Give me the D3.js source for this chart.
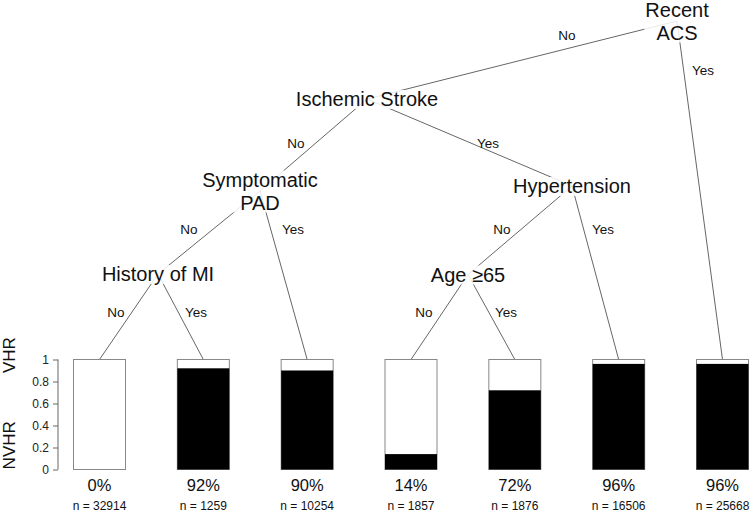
<!DOCTYPE html>
<html>
<head>
<meta charset="utf-8">
<script src="https://cdn.jsdelivr.net/npm/d3@7"></script>
<style>
  html, body { margin: 0; padding: 0; background: #fff; }
  svg { display: block; font-family: "Liberation Sans", Arial, sans-serif; }
</style>
</head>
<body>
<svg id="chart" width="750" height="511"></svg>
<script>
// ---------- DATA ----------
const leafIds = ["L1", "L2", "L3", "L4", "L5", "L6", "L7"];
const vhrShare = [0.00, 0.92, 0.90, 0.14, 0.72, 0.96, 0.96];
const pctLabels = ["0%", "92%", "90%", "14%", "72%", "96%", "96%"];
const nValues = [32914, 1259, 10254, 1857, 1876, 16506, 25668];
const yTicks = [0, 0.2, 0.4, 0.6, 0.8, 1];
const yTickLabels = ["0", "0.2", "0.4", "0.6", "0.8", "1"];
const axisTitles = ["VHR", "NVHR"];

const nodeIds = ["root", "isch", "spad", "hyp", "hmi", "age"];
const nodeLabels = [["Recent", "ACS"], ["Ischemic Stroke"], ["Symptomatic", "PAD"], ["Hypertension"], ["History of MI"], ["Age \u226565"]];

const edgeParents = ["root", "root", "isch", "isch", "spad", "spad", "hyp", "hyp", "hmi", "hmi", "age", "age"];
const edgeChildren = ["isch", "L7", "spad", "hyp", "hmi", "L3", "age", "L6", "L1", "L2", "L4", "L5"];
const edgeLabels = ["No", "Yes", "No", "Yes", "No", "Yes", "No", "Yes", "No", "Yes", "No", "Yes"];

// ---------- LAYOUT (positions of tree nodes / edge labels) ----------
const nodePos = {
  root: [677, 21], isch: [367, 99], spad: [260, 191],
  hyp: [572, 186], hmi: [158, 274], age: [468, 274.5]
};
const edgeLabelPos = [
  [567, 35], [703, 70], [296, 143], [488, 143], [189, 229], [293, 229],
  [502, 229], [603, 229], [116, 312], [196, 312], [424, 312], [506, 312]
];

// ---------- SCALES ----------
const svg = d3.select("#chart");
const x = d3.scalePoint().domain(leafIds).range([99.5, 722.5]);
const y = d3.scaleLinear().domain([0, 1]).range([469.5, 359.5]);
const barW = 52;

function pos(id) {
  if (nodePos[id]) return nodePos[id];
  return [x(id), y(1)];
}

// ---------- EDGES ----------
const edges = edgeParents.map((p, i) => ({ p, c: edgeChildren[i], label: edgeLabels[i], lp: edgeLabelPos[i] }));
svg.append("g").selectAll("line").data(edges).join("line")
  .attr("x1", d => pos(d.p)[0]).attr("y1", d => pos(d.p)[1])
  .attr("x2", d => pos(d.c)[0]).attr("y2", d => pos(d.c)[1])
  .attr("stroke", "#666").attr("stroke-width", 1);

svg.append("g").selectAll("text").data(edges).join("text")
  .attr("x", d => d.lp[0]).attr("y", d => d.lp[1] + 4.8)
  .attr("text-anchor", "middle").attr("font-size", 13.5).attr("fill", "#111")
  .text(d => d.label);

// ---------- NODES ----------
const nodes = nodeIds.map((id, i) => ({ id, lines: nodeLabels[i] }));
const ng = svg.append("g").selectAll("g").data(nodes).join("g");
ng.each(function(d) {
  const g = d3.select(this);
  const [cx, cy] = pos(d.id);
  const n = d.lines.length;
  const lh = 23;
  const bg = g.append("rect").attr("fill", "#fff").attr("opacity", 0.85);
  const t = g.append("text").attr("text-anchor", "middle").attr("font-size", 20).attr("fill", "#111");
  d.lines.forEach((ln, k) => {
    t.append("tspan").attr("x", cx).attr("y", cy + 7 + (k - (n - 1) / 2) * lh).text(ln);
  });
  const bb = t.node().getBBox();
  bg.attr("x", bb.x - 1).attr("y", bb.y + 2).attr("width", bb.width + 2).attr("height", bb.height - 3);
});

// ---------- BARS ----------
const leaves = leafIds.map((id, i) => ({ id, v: vhrShare[i], pct: pctLabels[i], n: nValues[i] }));
const bg = svg.append("g");
bg.selectAll("rect.box").data(leaves).join("rect").attr("class", "box")
  .attr("x", d => x(d.id) - barW / 2).attr("y", y(1))
  .attr("width", barW).attr("height", y(0) - y(1))
  .attr("fill", "#fff").attr("stroke", "#888").attr("stroke-width", 1);
bg.selectAll("rect.fill").data(leaves).join("rect").attr("class", "fill")
  .attr("x", d => x(d.id) - barW / 2).attr("y", d => y(d.v))
  .attr("width", barW).attr("height", d => y(0) - y(d.v))
  .attr("fill", "#000");

bg.selectAll("text.pct").data(leaves).join("text").attr("class", "pct")
  .attr("x", d => x(d.id)).attr("y", 490.5)
  .attr("text-anchor", "middle").attr("font-size", 16.5).attr("fill", "#111")
  .text(d => d.pct);
bg.selectAll("text.n").data(leaves).join("text").attr("class", "n")
  .attr("x", d => x(d.id)).attr("y", 509.5)
  .attr("text-anchor", "middle").attr("font-size", 12).attr("fill", "#111")
  .text(d => "n = " + d.n);

// ---------- AXIS ----------
const axisG = svg.append("g").attr("transform", "translate(58,0)")
  .call(d3.axisLeft(y).tickValues(yTicks).tickFormat((d, i) => yTickLabels[i]).tickSize(5).tickPadding(4));
axisG.select(".domain").attr("stroke", "#666").attr("d", `M0,${y(0)}V${y(1)}`);
axisG.selectAll(".tick line").attr("stroke", "#666");
axisG.selectAll(".tick text").attr("font-size", 12).attr("fill", "#222")
  .attr("font-family", "Liberation Sans, Arial, sans-serif");

svg.append("text").attr("transform", `translate(15,${y(1.04)}) rotate(-90)`)
  .attr("text-anchor", "middle").attr("font-size", 17).attr("fill", "#111").text(axisTitles[0]);
svg.append("text").attr("transform", `translate(15,${y(0.22)}) rotate(-90)`)
  .attr("text-anchor", "middle").attr("font-size", 17).attr("fill", "#111").text(axisTitles[1]);
</script>
</body>
</html>
